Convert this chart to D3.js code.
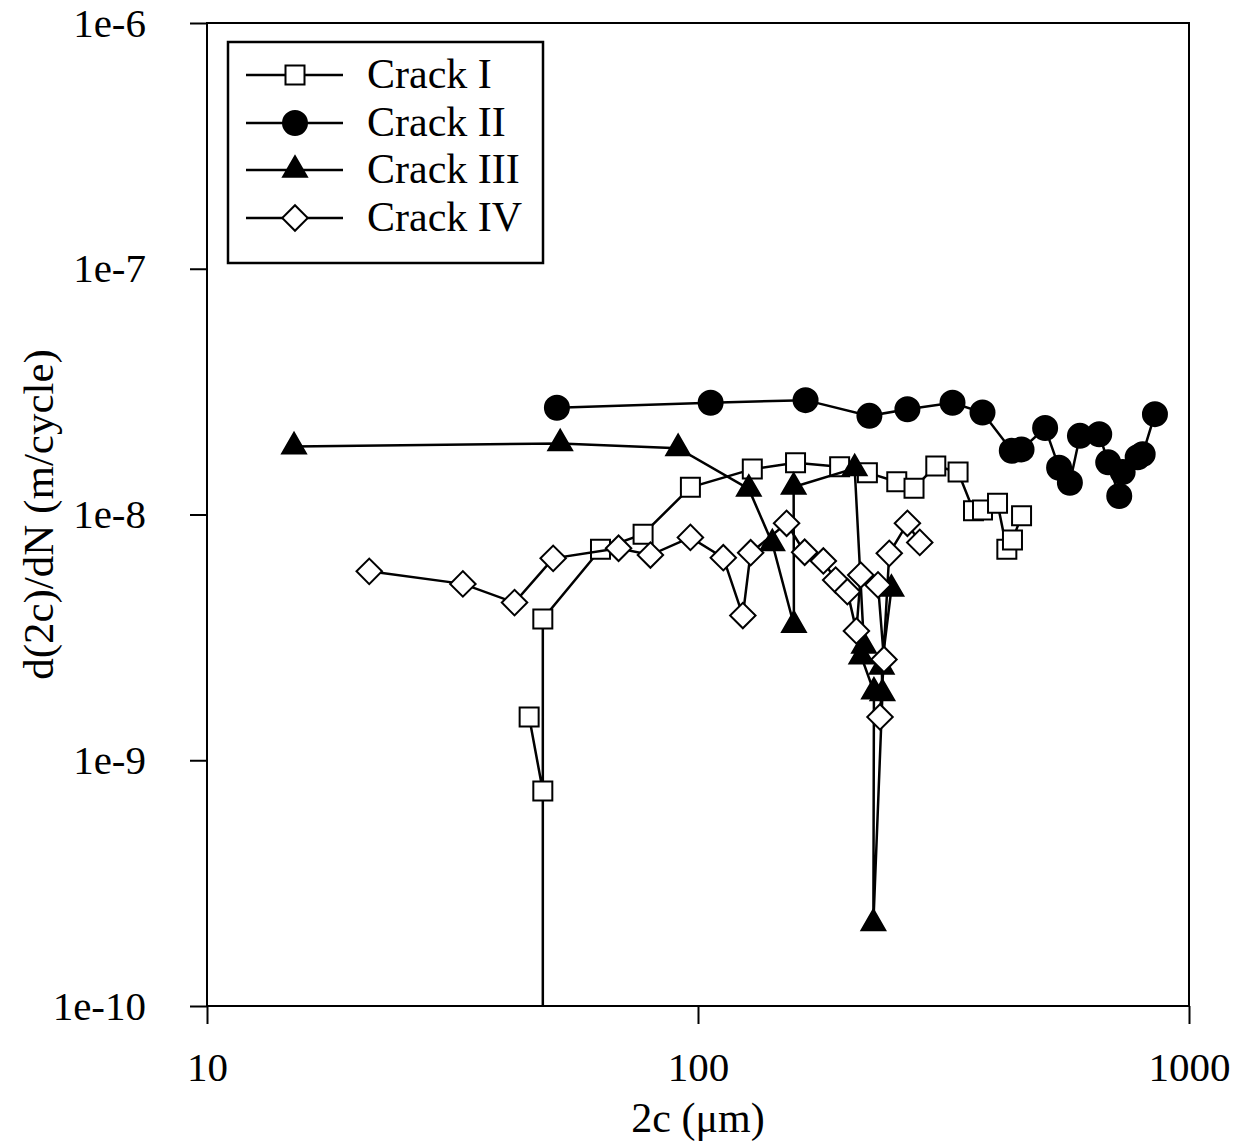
<!DOCTYPE html>
<html><head><meta charset="utf-8">
<script src="https://cdn.jsdelivr.net/npm/d3@7"></script>
<style>body{margin:0;background:#fff}svg{display:block}text{font-family:"Liberation Serif","Times New Roman",serif;fill:#000}</style>
</head><body><svg id="c" width="1246" height="1144"></svg>
<script>
// data: [2c (um), d(2c)/dN (m/cycle)]
const crackI = [[45.3,1.50e-9],[48.3,7.5e-10],[48.3,5e-11],[48.3,3.76e-9],[63.3,7.22e-9],[77.3,8.31e-9],[96.5,1.29e-8],[129,1.53e-8],[158,1.625e-8],[194.3,1.565e-8],[221.3,1.48e-8],[254,1.36e-8],[275.4,1.28e-8],[305,1.575e-8],[338.6,1.49e-8],[364,1.036e-8],[379.7,1.043e-8],[407.4,1.11e-8],[425.6,7.22e-9],[437,7.87e-9],[456,9.89e-9]];
const crackII = [[51.6,2.72e-8],[106.1,2.85e-8],[165.6,2.92e-8],[223.4,2.52e-8],[267,2.68e-8],[329.9,2.85e-8],[379.7,2.60e-8],[435.6,1.817e-8],[456,1.84e-8],[509.3,2.25e-8],[543.8,1.55e-8],[572,1.347e-8],[599.6,2.09e-8],[656.4,2.12e-8],[684.6,1.63e-8],[721,1.19e-8],[732.6,1.49e-8],[786.1,1.71e-8],[804.7,1.76e-8],[852.4,2.56e-8]];
const crackIII = [[15.04,1.89e-8],[52.4,1.945e-8],[91.1,1.86e-8],[126.9,1.27e-8],[141.7,7.63e-9],[156.8,3.55e-9],[156.6,1.294e-8],[208.5,1.54e-8],[217.8,2.92e-9],[215.1,2.64e-9],[228.2,1.90e-9],[227.6,2.17e-10],[237.5,1.87e-9],[236.7,2.40e-9],[247.7,4.98e-9]];
const crackIV = [[21.4,5.87e-9],[33.2,5.22e-9],[42.3,4.38e-9],[50.7,6.63e-9],[68.9,7.29e-9],[80.0,6.84e-9],[96.5,8.07e-9],[112.6,6.67e-9],[123.4,3.88e-9],[128,6.99e-9],[151.5,9.21e-9],[164.9,7.02e-9],[180,6.47e-9],[190.7,5.41e-9],[201.5,4.85e-9],[210.2,3.36e-9],[214.5,5.67e-9],[232.6,5.17e-9],[239.2,2.57e-9],[234.8,1.50e-9],[245.2,6.95e-9],[267,9.21e-9],[282.9,7.70e-9]];
const seriesNames = ["Crack I","Crack II","Crack III","Crack IV"];
const xTickLabels = [10,100,1000];
const yTickLabels = ["1e-10","1e-9","1e-8","1e-7","1e-6"];

const L=207,R=1189,T=23,B=1006;
const svg=d3.select("#c");
const x=d3.scaleLog().domain([10,1000]).range([L,R]);
const y=d3.scaleLog().domain([1e-10,1e-6]).range([B,T]);

const xMinor=[],yMinor=[];
for(let d=10;d<1000;d*=10)for(let k=2;k<=9;k++)xMinor.push(d*k);
for(let e=-10;e<-6;e++)for(let k=2;k<=9;k++)yMinor.push(k*Math.pow(10,e));
const yMajor=yTickLabels.map(s=>+s);

const gx=svg.append("g").attr("transform",`translate(0,${B})`);
gx.call(d3.axisBottom(x).tickValues(xMinor).tickSize(11).tickFormat(""));
gx.call(d3.axisBottom(x).tickValues(xTickLabels).tickSize(18).tickPadding(28).tickFormat(d=>String(d)));
const gy=svg.append("g").attr("transform",`translate(${L},0)`);
gy.call(d3.axisLeft(y).tickValues(yMinor).tickSize(10).tickFormat(""));
gy.call(d3.axisLeft(y).tickValues(yMajor).tickSize(17).tickPadding(44).tickFormat((d,i)=>yTickLabels[i]));
svg.selectAll(".domain").remove();
svg.selectAll(".tick line").attr("stroke","#000").attr("stroke-width",2);
svg.selectAll(".tick text").attr("font-size",41).attr("font-family","Liberation Serif");

svg.append("rect").attr("x",L).attr("y",T).attr("width",R-L).attr("height",B-T).attr("fill","none").attr("stroke","#000").attr("stroke-width",2);

svg.append("text").attr("x",(L+R)/2).attr("y",1132).attr("text-anchor","middle").attr("font-size",42).text("2c (μm)");
svg.append("text").attr("transform",`translate(53,${(T+B)/2}) rotate(-90)`).attr("text-anchor","middle").attr("font-size",43).text("d(2c)/dN (m/cycle)");

svg.append("clipPath").attr("id","clip").append("rect").attr("x",L).attr("y",T).attr("width",R-L).attr("height",B-T);
const plot=svg.append("g").attr("clip-path","url(#clip)");
const line=d3.line().x(d=>x(d[0])).y(d=>y(d[1]));

const sq=d3.symbol().type(d3.symbolSquare).size(19*19)();
const circ=d3.symbol().type(d3.symbolCircle).size(Math.PI*12*12)();
const tri=d3.symbol().type(d3.symbolTriangle).size(245)();
const dia=d3.symbol().type(d3.symbolSquare).size(18*18)();
const specs=[
 {data:crackI,path:sq,fill:"#fff",rot:0},
 {data:crackII,path:circ,fill:"#000",rot:0},
 {data:crackIII,path:tri,fill:"#000",rot:0},
 {data:crackIV,path:dia,fill:"#fff",rot:45}
];
specs.forEach(s=>{
  plot.append("path").datum(s.data).attr("d",line).attr("fill","none").attr("stroke","#000").attr("stroke-width",2.5);
  plot.selectAll(null).data(s.data.filter(d=>d[1]>=1e-10)).enter().append("path")
    .attr("d",s.path).attr("transform",d=>`translate(${x(d[0])},${y(d[1])}) rotate(${s.rot})`)
    .attr("fill",s.fill).attr("stroke","#000").attr("stroke-width",2);
});

const lg=svg.append("g");
lg.append("rect").attr("x",228).attr("y",42).attr("width",315).attr("height",221).attr("fill","#fff").attr("stroke","#000").attr("stroke-width",2.5);
const rows=[75,123,170,218];
specs.forEach((s,i)=>{
  const yy=rows[i];
  lg.append("line").attr("x1",246).attr("x2",343).attr("y1",yy).attr("y2",yy).attr("stroke","#000").attr("stroke-width",2.5);
  lg.append("path").attr("d",s.path).attr("transform",`translate(295,${yy}) rotate(${s.rot})`).attr("fill",s.fill).attr("stroke","#000").attr("stroke-width",2);
  lg.append("text").attr("x",367).attr("y",yy+13).attr("font-size",42).text(seriesNames[i]);
});
</script></body></html>
